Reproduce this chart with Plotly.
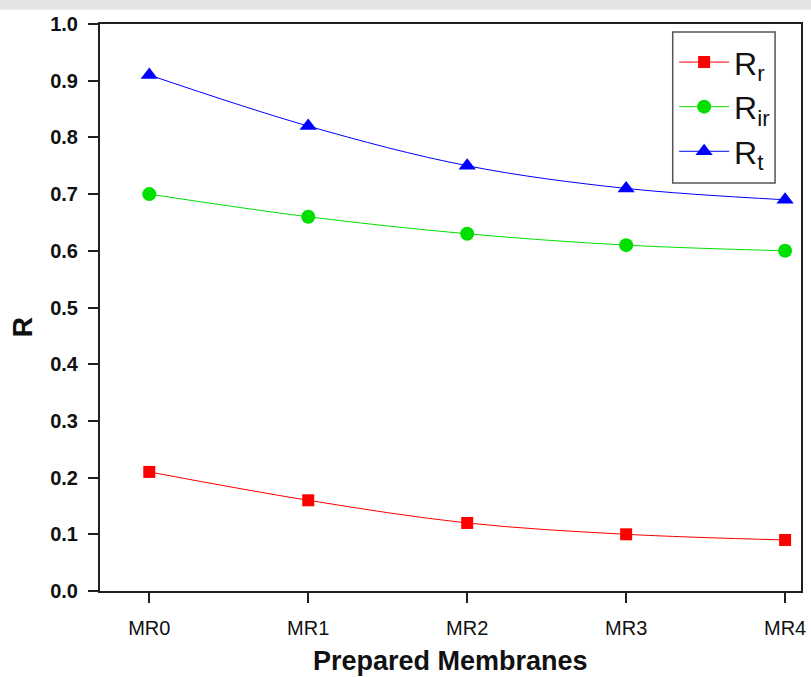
import plotly.graph_objects as go

membranes = ["MR0", "MR1", "MR2", "MR3", "MR4"]
r_r = [0.21, 0.16, 0.12, 0.10, 0.09]
r_ir = [0.70, 0.66, 0.63, 0.61, 0.60]
r_t = [0.91, 0.82, 0.75, 0.71, 0.69]
y_ticks = [0.0, 0.1, 0.2, 0.3, 0.4, 0.5, 0.6, 0.7, 0.8, 0.9, 1.0]

xpos = list(range(len(membranes)))

series = [
    ("R<sub>r</sub>", r_r, "#ff0000", "square", 12),
    ("R<sub>ir</sub>", r_ir, "#00e000", "circle", 14),
    ("R<sub>t</sub>", r_t, "#0000ff", "triangle-up", 15),
]

fig = go.Figure()
for name, vals, col, sym, sz in series:
    fig.add_trace(go.Scatter(
        x=xpos, y=vals, name=name, mode="lines+markers",
        line=dict(color=col, width=1, shape="spline"),
        marker=dict(symbol=sym, size=sz, color=col),
    ))

axis_common = dict(
    showline=True, linecolor="#1f1f1f", linewidth=2, mirror=True,
    ticks="outside", ticklen=10, tickwidth=2, tickcolor="#1f1f1f",
    showgrid=False, zeroline=False, automargin=False,
)

fig.update_layout(
    width=811, height=677,
    margin=dict(l=100, r=10, t=24, b=86),
    paper_bgcolor="white", plot_bgcolor="white",
    font=dict(family="Liberation Sans, Arial, sans-serif", color="#111111"),
    xaxis=dict(
        range=[-0.31, 4.10], tickvals=xpos, ticktext=membranes,
        tickfont=dict(size=20), ticklabelstandoff=8,
        **axis_common,
    ),
    yaxis=dict(
        range=[0, 1.0], tickvals=y_ticks,
        ticktext=[f"<b>{v:.1f}</b>" for v in y_ticks],
        tickfont=dict(size=20), ticklabelstandoff=6,
        **axis_common,
    ),
    legend=dict(
        x=0.819, y=0.981, xanchor="left", yanchor="top",
        bgcolor="rgba(0,0,0,0)", borderwidth=0,
        font=dict(size=32, color="#111111"), itemwidth=50,
        tracegroupgap=0,
    ),
    showlegend=True,
    annotations=[
        # axis titles
        dict(text="<b>Prepared Membranes</b>", xref="paper", yref="paper",
             x=0.5, y=-0.124, xanchor="center", yanchor="middle",
             showarrow=False, font=dict(size=27, color="#111111")),
        dict(text="<b>R</b>", xref="paper", yref="paper",
             x=-0.111, y=0.4656, xanchor="center", yanchor="middle",
             textangle=-90, showarrow=False, font=dict(size=28, color="#111111")),
    ],
    shapes=[
        # legend frame
        dict(type="rect", xref="paper", yref="paper",
             x0=0.817, x1=0.963, y0=0.7196, y1=0.986,
             line=dict(color="#555555", width=1.5), fillcolor="rgba(0,0,0,0)",
             layer="above"),
        # light grey strip along the top edge
        dict(type="rect", xref="paper", yref="paper",
             x0=-0.143, x1=1.015, y0=1.025, y1=1.045,
             fillcolor="#e4e4e4", line=dict(width=0), layer="below"),
    ],
)

fig.write_html("out.html")
